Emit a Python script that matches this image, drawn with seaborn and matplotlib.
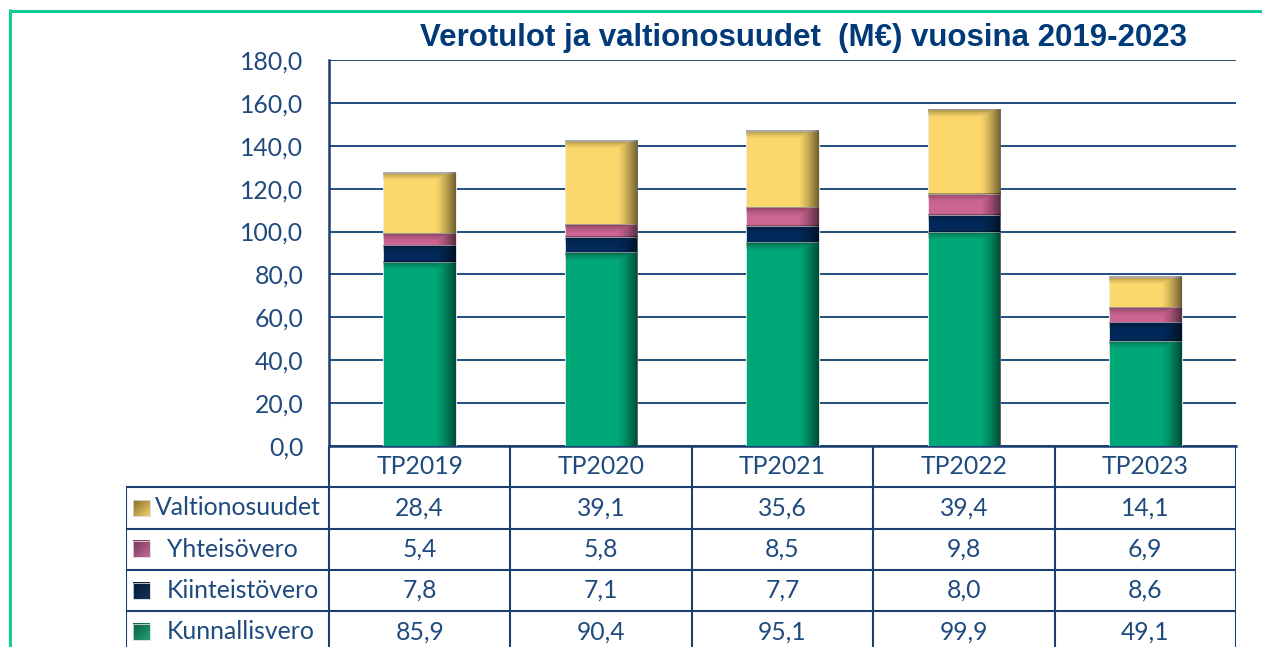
import numpy as np
import pandas as pd
import matplotlib
matplotlib.use("Agg")
import matplotlib.pyplot as plt
import seaborn as sns
from matplotlib.lines import Line2D
from matplotlib.patches import Rectangle

# ---------------- data ----------------
years = ["TP2019", "TP2020", "TP2021", "TP2022", "TP2023"]
kunnallisvero = [85.9, 90.4, 95.1, 99.9, 49.1]
kiinteistovero = [7.8, 7.1, 7.7, 8.0, 8.6]
yhteisovero = [5.4, 5.8, 8.5, 9.8, 6.9]
valtionosuudet = [28.4, 39.1, 35.6, 39.4, 14.1]
series_names = ["Kunnallisvero", "Kiinteistövero", "Yhteisövero", "Valtionosuudet"]
series_values = [kunnallisvero, kiinteistovero, yhteisovero, valtionosuudet]
colors = ["#00a878", "#02295a", "#cc6592", "#fcd76b"]
swatch_dark = ["#075e42", "#021a33", "#7a3558", "#8a6c25"]
swatch_light = ["#23a070", "#12305c", "#c06a96", "#f0cf6a"]
title = "Verotulot ja valtionosuudet  (M\u20ac) vuosina 2019-2023"
yticks = [0, 20, 40, 60, 80, 100, 120, 140, 160, 180]

TEXT = "#1f4a7e"
NAVY = "#1b3f72"
FS = 17.8

W, H = 1262, 647
sns.set_style("white")
plt.rcParams["font.family"] = ["Lato", "DejaVu Sans"]

fig = plt.figure(figsize=(W / 100, H / 100), dpi=100)

# ---------------- main axes ----------------
ax_l, ax_r, ax_t, ax_b = 329, 1236, 60, 446
ax = fig.add_axes([ax_l / W, (H - ax_b) / H, (ax_r - ax_l) / W, (ax_b - ax_t) / H])

df = pd.DataFrame({"vuosi": years})
cum = np.cumsum(np.array(series_values), axis=0)
for i in reversed(range(len(series_names))):
    df["cum"] = cum[i]
    sns.barplot(data=df, x="vuosi", y="cum", color=colors[i], saturation=1,
                width=0.4, ax=ax, edgecolor="#e9eef0", linewidth=0.6, zorder=3)

# shading on each visible segment (right edge + top darkening)
nx, ny = 60, 120
tx = np.linspace(0, 1, nx)
alpha_x = np.clip((tx - 0.72) / 0.28, 0, 1) ** 1.3 * 0.55
px_per_unit = (ax_b - ax_t) / 180.0
bars_by_layer = {}
n = len(years)
layer_order = list(reversed(range(len(series_names))))
for k, i in enumerate(layer_order):
    bars_by_layer[i] = ax.patches[k * n:(k + 1) * n]
for i in range(len(series_names)):
    for j, p in enumerate(bars_by_layer[i]):
        top = p.get_height()
        bottom = cum[i - 1][j] if i > 0 else 0.0
        seg_h = top - bottom
        ty = np.linspace(1, 0, ny)  # row 0 = top
        band = 9.0 / px_per_unit / seg_h
        alpha_y = np.clip(1 - (1 - ty) / max(band, 1e-6), 0, 1) ** 1.5 * 0.35
        a = np.maximum(alpha_x[None, :], alpha_y[:, None])
        img = np.zeros((ny, nx, 4))
        img[..., 3] = a
        x0 = p.get_x()
        ax.imshow(img, extent=[x0, x0 + p.get_width(), bottom, top],
                  aspect="auto", zorder=4, interpolation="bilinear")

ax.set_xlim(-0.5, len(years) - 0.5)
ax.set_ylim(0, 180)
ax.set_yticks(yticks)
ax.set_yticklabels([f"{v:.1f}".replace(".", ",") for v in yticks])
ax.tick_params(axis="y", length=0, pad=18.5, labelsize=FS, labelcolor=TEXT)
ax.tick_params(axis="x", length=0, labelbottom=False)
ax.set_xlabel("")
ax.set_ylabel("")
ax.set_axisbelow(True)
ax.yaxis.grid(True, color="#1f4e7e", linewidth=1.4)
ax.xaxis.grid(False)
for s in ["top", "right"]:
    ax.spines[s].set_visible(False)
for s in ["left", "bottom"]:
    ax.spines[s].set_color(NAVY)
    ax.spines[s].set_linewidth(1.8)
ax.patch.set_alpha(0)

# ---------------- title ----------------
fig.text(803 / W, 1 - 38 / H, title, ha="center", va="center", fontsize=22.5,
         fontweight="bold", color="#003a78", family=["Liberation Sans", "DejaVu Sans"])

# ---------------- data table ----------------
col_w = (ax_r - ax_l) / len(years)
row_h = 41.3
tab_l = 126
x_left = -0.5 - (ax_l - tab_l) / col_w
tax = fig.add_axes([tab_l / W, 0, (ax_r - tab_l) / W, (H - ax_b) / H])
tax.set_xlim(x_left, len(years) - 0.5)
ymax = (H - ax_b) / row_h
tax.set_ylim(ymax, 0)
tax.axis("off")

lw = 1.5
nrows = len(series_names)
for k in range(len(years) + 1):
    tax.plot([k - 0.5, k - 0.5], [0, ymax], color=NAVY, lw=lw, solid_capstyle="butt")
tax.plot([x_left, x_left], [1, ymax], color=NAVY, lw=lw, solid_capstyle="butt")
for r in range(1, nrows + 1):
    tax.plot([x_left, len(years) - 0.5], [r, r], color=NAVY, lw=lw, solid_capstyle="butt")

for j, y in enumerate(years):
    tax.text(j, 0.5, y, ha="center", va="center", fontsize=FS, color=TEXT)

table_order = list(reversed(range(nrows)))  # Valtionosuudet first
text_px = [155, 167, 167, 167]
for r, i in enumerate(table_order):
    yc = r + 1.5
    for j in range(len(years)):
        tax.text(j, yc, f"{series_values[i][j]:.1f}".replace(".", ","),
                 ha="center", va="center", fontsize=FS, color=TEXT)
    # legend swatch with diagonal gradient
    sx0 = x_left + (133 - tab_l) / col_w
    sx1 = x_left + (150 - tab_l) / col_w
    sh = 16 / row_h
    gx, gy = np.meshgrid(np.linspace(0, 1, 20), np.linspace(0, 1, 20))
    t = (gx + gy) / 2
    c0 = np.array(matplotlib.colors.to_rgb(swatch_dark[i]))
    c1 = np.array(matplotlib.colors.to_rgb(swatch_light[i]))
    sw = c0[None, None, :] * (1 - t[..., None]) + c1[None, None, :] * t[..., None]
    tax.imshow(sw, extent=[sx0, sx1, yc + sh / 2, yc - sh / 2], aspect="auto",
               interpolation="bilinear", zorder=3)
    tax.add_patch(Rectangle((sx0, yc - sh / 2), sx1 - sx0, sh, fill=False,
                            edgecolor="#d8d8d8", lw=0.6, zorder=4))
    tx_d = x_left + (text_px[r] - tab_l) / col_w
    tax.text(tx_d, yc, series_names[i], ha="left", va="center", fontsize=FS, color=TEXT)
tax.set_xlim(x_left, len(years) - 0.5)
tax.set_ylim(ymax, 0)

# ---------------- outer green border ----------------
green = "#14cd96"
fig.add_artist(Line2D([10 / W, 10 / W], [0, 1 - 10 / H], color=green, lw=2.2,
                      transform=fig.transFigure))
fig.add_artist(Line2D([10 / W, 1], [1 - 10.5 / H, 1 - 10.5 / H], color=green, lw=2.2,
                      transform=fig.transFigure))

fig.savefig("out.png", dpi=100)
